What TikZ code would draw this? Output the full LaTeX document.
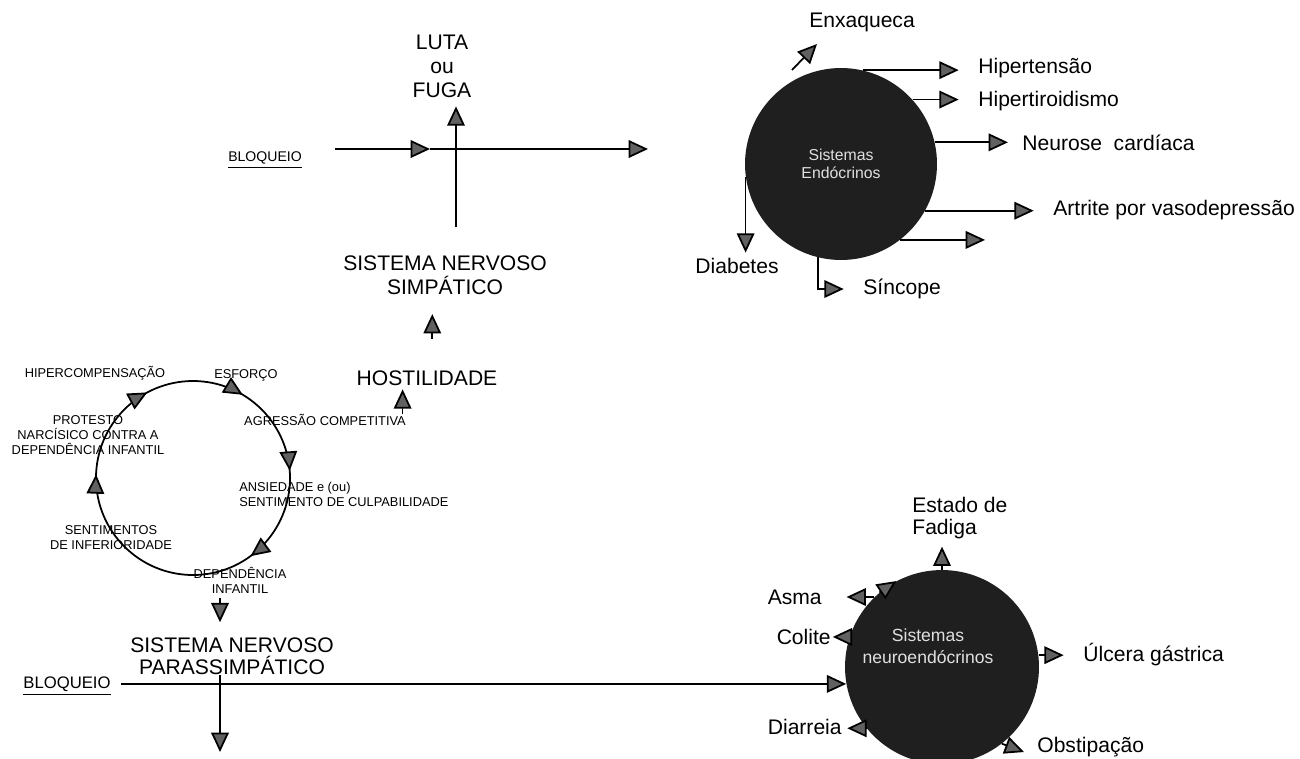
\documentclass[tikz,border=0pt]{standalone}
\usepackage{fontspec}
\setmainfont{Liberation Sans}
\usetikzlibrary{arrows.meta,positioning,decorations.markings}

\tikzset{
  seta/.style={line width=1pt,-{Triangle[length=11pt,width=10pt,fill=black!62]}},
  grande/.style={font=\fontsize{12}{13.6}\selectfont, align=center, inner sep=0pt},
  miudo/.style={font=\fontsize{7.3}{8.5}\selectfont, align=center, inner sep=0pt},
  doenca/.style={font=\fontsize{12}{13}\selectfont, inner sep=0pt},
  esfera/.style={circle, fill=black!88, text=black!12, align=center, inner sep=0pt}
}

\begin{document}
\begin{tikzpicture}[x=0.02cm, y=-0.02cm]
\useasboundingbox (0,0) rectangle (1300,758);
\clip (0,0) rectangle (1300,758);

% simpatico
\node[grande] (luta) at (442,66) {LUTA\\ou\\FUGA};
\node[grande] (simpatico) at (445,275) {SISTEMA NERVOSO\\SIMPÁTICO};
\node[grande] (hostil) at (427,378) {HOSTILIDADE};
\node[font=\fontsize{8}{9}\selectfont, inner sep=0pt] (bloqA) at (265,160) {\underline{BLOQUEIO}};

\coordinate (bloqA0) at (335,149);
\coordinate (meioA) at (430,149);
\coordinate (bloqA1) at (648,149);
\coordinate (simpTopo) at (456,227);
\draw[seta] (bloqA0) -- (meioA);
\draw[seta] (meioA) -- (bloqA1);
\draw[seta, shorten >=5pt] (simpTopo) -- (simpTopo |- luta.south);
\draw[seta, shorten <=18pt, shorten >=11pt] ([xshift=3pt]hostil.north) -- ([xshift=3pt]hostil.north |- simpatico.south);

% ciclo
\node[miudo] (hipercomp) at (95,373) {HIPERCOMPENSAÇÃO};
\node[miudo] (esforco) at (246,375) {ESFORÇO};
\node[miudo] (agressao) at (325,420) {AGRESSÃO COMPETITIVA};
\node[miudo] (protesto) at (88,435) {PROTESTO\\NARCÍSICO CONTRA A\\DEPENDÊNCIA INFANTIL};
\node[miudo, anchor=west, align=left] (ansiedade) at (239,494) {ANSIEDADE e (ou)\\SENTIMENTO DE CULPABILIDADE};
\node[miudo] (inferioridade) at (111,538) {SENTIMENTOS\\DE INFERIORIDADE};
\node[miudo] (dependencia) at (240,580) {DEPENDÊNCIA\\INFANTIL};

\draw[line width=1pt, decoration={markings,
    mark=at position 0.149 with {\arrow{Triangle[length=11pt,width=10pt,fill=black!62]}},
    mark=at position 0.506 with {\arrow{Triangle[length=11pt,width=10pt,fill=black!62]}},
    mark=at position 0.672 with {\arrow{Triangle[length=11pt,width=10pt,fill=black!62]}},
    mark=at position 0.836 with {\arrow{Triangle[length=11pt,width=10pt,fill=black!62]}},
    mark=at position 0.988 with {\arrow{Triangle[length=11pt,width=10pt,fill=black!62]}}},
  postaction={decorate}] (193,478) circle (97);

\draw[seta, shorten >=2pt] ([xshift=-2pt]agressao.north east) -- ([xshift=-2pt]agressao.north east |- hostil.south);

% parassimpatico
\node[grande, font=\fontsize{12}{12.5}\selectfont] (parass) at (232,656) {SISTEMA NERVOSO\\PARASSIMPÁTICO};
\node[font=\fontsize{9.5}{11}\selectfont, inner sep=0pt] (bloqB) at (67,686) {\underline{BLOQUEIO}};

\coordinate (depBaixo) at (220,598);
\coordinate (parasBaixo) at (220,752);
\draw[seta, shorten >=8.5pt] (depBaixo) -- (depBaixo |- parass.north);
\draw[seta] (parass.south -| parasBaixo) -- (parasBaixo);

% endocrinos
\node[esfera, minimum size=3.84cm, font=\fontsize{9}{10.2}\selectfont] (endo) at (841,164) {Sistemas\\Endócrinos};
\node[doenca] (enxaqueca) at (862,22) {Enxaqueca};
\node[doenca, anchor=west] (hipertensao) at (978,68) {Hipertensão};
\node[doenca, anchor=west] (hipertiroidismo) at (978,101) {Hipertiroidismo};
\node[doenca, anchor=west] (neurose) at (1022,143) {Neurose\ \ cardíaca};
\node[doenca, anchor=west] (artrite) at (1053,210) {Artrite por vasodepressão};
\node[doenca] (diabetes) at (737,266) {Diabetes};
\node[doenca, anchor=west] (sincope) at (863,289) {Síncope};

\coordinate (enxA) at (792,70);
\coordinate (enxB) at (817,44);
\coordinate (semNome) at (985,240);
\draw[seta] (enxA) -- (enxB);
\draw[seta, shorten >=11pt] (endo.77) -- (endo.77 -| hipertensao.west);
\draw[seta, shorten >=11pt] (endo.42) -- (endo.42 -| hipertiroidismo.west);
\draw[seta, shorten >=8pt] (endo.13) -- (endo.13 -| neurose.west);
\draw[seta, shorten >=11pt] (endo.-29) -- (endo.-29 -| artrite.west);
\draw[seta] (endo.-52) -- (endo.-52 -| semNome);
\draw[seta, shorten >=3pt] (endo.188) -- (endo.188 |- diabetes.north);
\draw[seta, shorten >=11pt] (endo.256) |- (sincope.west);

% neuroendocrinos
\node[esfera, minimum size=3.88cm] (neuro) at (942,667) {};
\node[font=\fontsize{10}{12.5}\selectfont, text=black!12, align=center] (neuroTexto) at (928,646) {Sistemas\\neuroendócrinos};
\node[doenca, align=left, anchor=west, font=\fontsize{12}{13}\selectfont] (fadiga) at (912,518) {Estado de\\Fadiga};
\node[doenca, anchor=east] (asma) at (822,597) {Asma};
\node[doenca, anchor=east] (colite) at (831,637) {Colite};
\node[doenca, anchor=east] (diarreia) at (842,727) {Diarreia};
\node[doenca, anchor=west] (ulcera) at (1083,655) {Úlcera gástrica};
\node[doenca, anchor=west] (obstipacao) at (1037,747) {Obstipação};

\coordinate (obstFim) at (1024,752);
\draw[seta, shorten <=6pt] (bloqB.east |- neuro.190) -- (neuro.190);
\draw[seta, shorten >=4pt] (neuro.north) -- (neuro.north |- fadiga.south);
\draw[seta, shorten >=14pt] (neuro.134) -- (neuro.134 -| asma.east);
\draw[seta] (neuro.130) -- (neuro.118);
\draw[seta, shorten >=1pt] (neuro.162) -- (neuro.162 -| colite.east);
\draw[seta, shorten >=3pt] (neuro.219) -- (neuro.219 -| diarreia.east);
\draw[seta, shorten >=11pt] (neuro.7) -- (neuro.7 -| ulcera.west);
\draw[seta] (neuro.-52) -- (obstFim);

\end{tikzpicture}
\end{document}
